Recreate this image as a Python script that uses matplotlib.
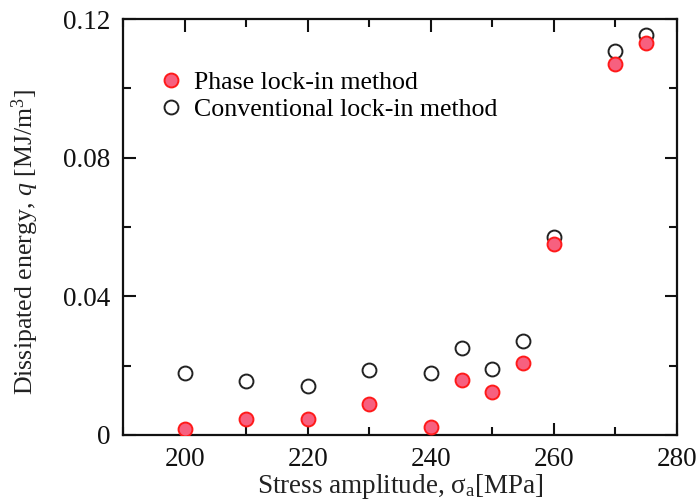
import matplotlib
matplotlib.use("Agg")
import matplotlib.pyplot as plt
from matplotlib.ticker import MultipleLocator, FuncFormatter

plt.rcParams['font.family'] = ['Liberation Serif', 'DejaVu Serif']
plt.rcParams['mathtext.fontset'] = 'custom'
plt.rcParams['mathtext.rm'] = 'Liberation Serif'
plt.rcParams['mathtext.it'] = 'Liberation Serif:italic'

stress = [200, 210, 220, 230, 240, 245, 250, 255, 260, 270, 275]
phase = [0.0017, 0.0045, 0.0047, 0.0089, 0.0023, 0.0159, 0.0123, 0.0207, 0.0551, 0.1070, 0.1132]
conventional = [0.0180, 0.0156, 0.0142, 0.0187, 0.0180, 0.0252, 0.0191, 0.0271, 0.0572, 0.1108, 0.1154]

fig = plt.figure(figsize=(7.0, 5.04), dpi=100)
ax = fig.add_axes([0.176, 0.137, 0.791, 0.825])

ax.plot(stress, conventional, linestyle='none', marker='o', ms=10,
        mfc='white', mec='#222222', mew=1.4, label='Conventional lock-in method', zorder=2)
ax.plot(stress, phase, linestyle='none', marker='o', ms=10,
        mfc='#f7607f', mec='#ff1a1a', mew=1.4, label='Phase lock-in method', zorder=3)

ax.set_xlim(190, 280)
ax.set_ylim(0, 0.12)
ax.xaxis.set_major_locator(MultipleLocator(20))
ax.xaxis.set_minor_locator(MultipleLocator(10))
ax.yaxis.set_major_locator(MultipleLocator(0.04))
ax.yaxis.set_minor_locator(MultipleLocator(0.02))
ax.yaxis.set_major_formatter(FuncFormatter(lambda v, p: '0' if abs(v) < 1e-9 else f'{v:.2f}'))

ax.tick_params(which='both', direction='in', top=True, right=True, width=1.5,
               labelsize=19.5, colors='#111111')
ax.tick_params(which='major', length=9, pad=9)
ax.tick_params(which='minor', length=5.5)
for s in ax.spines.values():
    s.set_linewidth(1.6)
    s.set_color('#111111')

ax.set_xlabel('Stress amplitude, σ$_\\mathregular{a}$[MPa]', fontsize=19.5, color='#222222')
ax.xaxis.set_label_coords(0.5, -0.09, transform=ax.transAxes)
ax.xaxis.label.set_va('top')
ax.set_ylabel('Dissipated energy, $\\it{q}$ [MJ/m$^\\mathregular{3}$]', fontsize=18.6, color='#222222')
ax.yaxis.set_label_coords(-0.148, 0.465)

handles, labels = ax.get_legend_handles_labels()
ax.legend(handles[::-1], labels[::-1], loc='upper left', bbox_to_anchor=(0.04, 0.9),
          frameon=False, fontsize=18.6, handletextpad=0.3, handlelength=1.2,
          labelspacing=0.15, borderaxespad=0)

fig.savefig('out.png', dpi=100)
